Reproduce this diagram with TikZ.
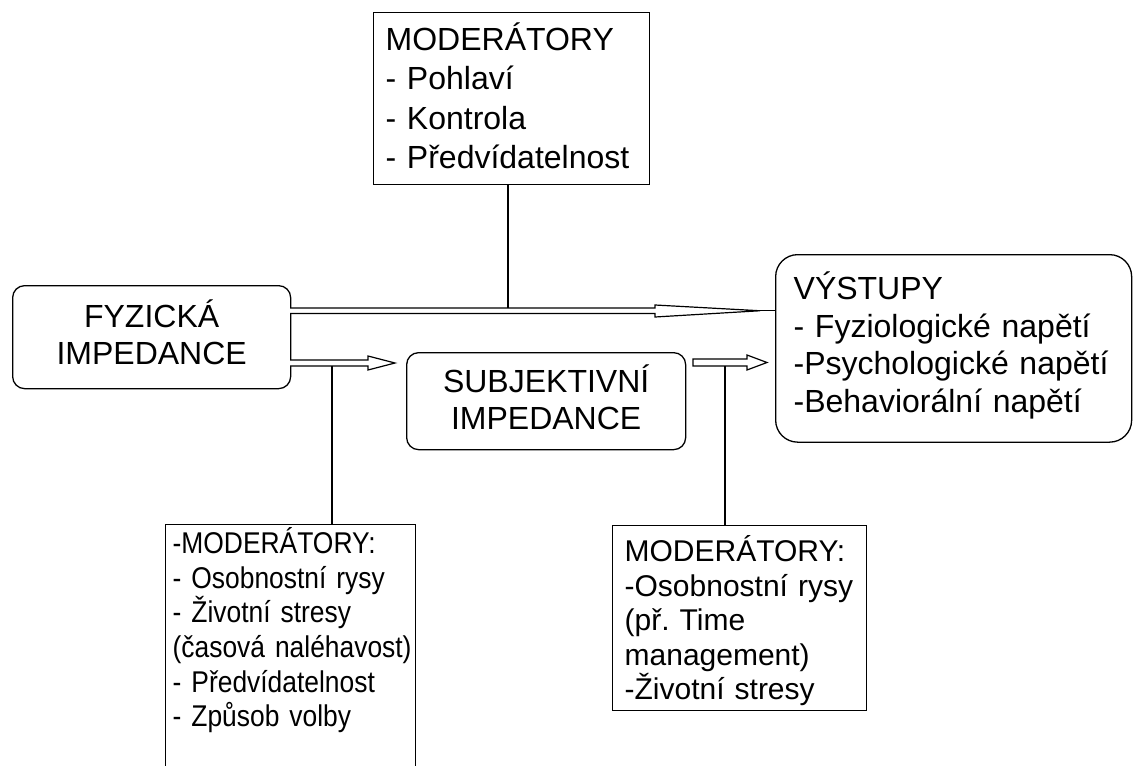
\documentclass[tikz,border=0pt]{standalone}
\usepackage{fontspec}
\setmainfont{Liberation Sans}
\newfontfamily\narrowf[FakeStretch=0.88,WordSpace=0.8]{Liberation Sans}
\frenchspacing
\begin{document}
\begin{tikzpicture}[x=1pt,y=-1pt,
  box/.style={draw, line width=1.3pt, anchor=north west, inner ysep=0pt, align=left},
  rbox/.style={box, rounded corners=12pt},
  harrow/.style={draw, line width=1.2pt, fill=white, line join=miter},
  conn/.style={draw, line width=1.1pt},
  bigf/.style={font=\frenchspacing\fontsize{32}{#1}\selectfont},
  midf/.style={font=\frenchspacing\fontsize{30}{#1}\selectfont},
  smallf/.style={font=\frenchspacing\narrowf\fontsize{30}{#1}\selectfont}]
\useasboundingbox (0,0) rectangle (1134,765);
\clip (0,0) rectangle (1134,765);
\fill[white] (0,0) rectangle (1134,765);

% boxes
\node[box, text width=252pt, inner xsep=12pt, bigf=39.3] (mod1) at (373,12)
  {\rule{0pt}{38pt}MODERÁTORY\\- Pohlaví\\- Kontrola\\- Předvídatelnost\rule[-16pt]{0pt}{16pt}};
\node[rbox, align=center, text width=278pt, inner xsep=0pt, bigf=37] (fyz) at (12,285)
  {\rule{0pt}{42pt}FYZICKÁ\\IMPEDANCE\rule[-24pt]{0pt}{24pt}};
\node[rbox, align=center, text width=279pt, inner xsep=0pt, bigf=37] (subj) at (406,352)
  {\rule{0pt}{40pt}SUBJEKTIVNÍ\\IMPEDANCE\rule[-20pt]{0pt}{20pt}};
\node[box, rounded corners=22pt, text width=320pt, inner xsep=18pt, bigf=37.5] (vyst) at (775,254)
  {\rule{0pt}{45pt}VÝSTUPY\\- Fyziologické napětí\\-Psychologické napětí\\-Behaviorální napětí\rule[-30pt]{0pt}{30pt}};
\node[box, text width=236pt, inner xsep=7pt, smallf=34.6] (mod2) at (165,524)
  {\rule{0pt}{29pt}\mbox{-MODERÁTORY:}\\\mbox{- Osobnostní rysy}\\\mbox{- Životní stresy}\\\mbox{(časová naléhavost)}\\\mbox{- Předvídatelnost}\\\mbox{- Způsob volby}\rule[-54pt]{0pt}{54pt}};
\node[box, text width=230pt, inner xsep=12pt, midf=34.5] (mod3) at (612,525)
  {\rule{0pt}{36pt}\mbox{MODERÁTORY:}\\\mbox{-Osobnostní rysy}\\\mbox{(př. Time}\\\mbox{management)}\\\mbox{-Životní stresy}\rule[-11pt]{0pt}{11pt}};

% hollow arrows
\coordinate (a1t) at (760,310.75);
\draw[harrow] (290,308) -- (655,308) -- (655,305) -- (a1t) -- (655,317) -- (655,313.5) -- (290,313.5);
\draw[conn] (a1t) -- (vyst.west |- a1t);

\coordinate (a2t) at (395,363);
\draw[harrow] (290,360) -- (368,360) -- (368,356) -- (a2t) -- (368,370) -- (368,366) -- (290,366);

\coordinate (a3t) at (767,362.5);
\draw[harrow] (693,359) -- (747,359) -- (747,355) -- (a3t) -- (747,370) -- (747,366) -- (693,366) -- cycle;

% connectors
\coordinate (c1) at (508,308);
\draw[conn] (mod1.south -| c1) -- (c1);
\coordinate (c2) at (332,366);
\draw[conn] (c2) -- (mod2.north -| c2);
\coordinate (c3) at (725,366);
\draw[conn] (c3) -- (mod3.north -| c3);
\end{tikzpicture}
\end{document}
